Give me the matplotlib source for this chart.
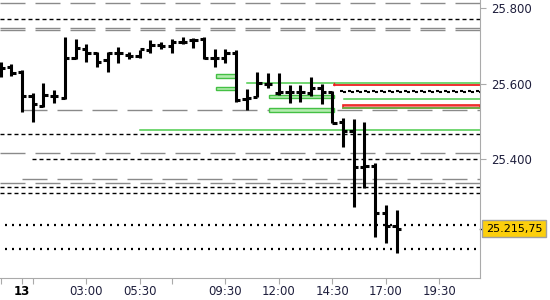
import matplotlib.pyplot as plt
from matplotlib.patches import Rectangle

plt.rcParams['lines.scale_dashes'] = False

# bar times in hours from midnight of the 13th, 30 min bars
times = [-1.0, -0.5, 0.0, 0.5, 1.0, 1.5, 2.0, 2.5, 3.0, 3.5, 4.0, 4.5, 5.0, 5.5,
         6.0, 6.5, 7.0, 7.5, 8.0, 8.5, 9.0, 9.5, 10.0, 10.5, 11.0, 11.5, 12.0,
         12.5, 13.0, 13.5, 14.0, 14.5, 15.0, 15.5, 16.0, 16.5, 17.0, 17.5]
opens = [25644, 25644, 25630, 25567, 25540, 25567, 25562, 25668, 25691, 25681,
         25662, 25681, 25675, 25673, 25689, 25702, 25699, 25710, 25715, 25718,
         25668, 25668, 25681, 25559, 25564, 25599, 25575, 25577, 25577, 25575,
         25588, 25577, 25498, 25474, 25379, 25381, 25257, 25223]
highs = [25657, 25652, 25636, 25575, 25601, 25583, 25723, 25718, 25705, 25683,
         25683, 25697, 25683, 25689, 25715, 25710, 25718, 25723, 25721, 25723,
         25691, 25691, 25689, 25585, 25630, 25628, 25628, 25596, 25596, 25617,
         25599, 25580, 25509, 25506, 25498, 25389, 25278, 25265]
lows = [25617, 25620, 25525, 25498, 25538, 25548, 25559, 25665, 25657, 25644,
        25630, 25654, 25665, 25668, 25681, 25691, 25681, 25705, 25694, 25665,
        25644, 25654, 25551, 25530, 25564, 25588, 25570, 25548, 25551, 25567,
        25546, 25495, 25432, 25273, 25323, 25193, 25177, 25151]
closes = [25641, 25628, 25567, 25546, 25570, 25567, 25668, 25694, 25681, 25657,
          25681, 25681, 25673, 25691, 25702, 25699, 25710, 25710, 25715, 25668,
          25668, 25681, 25556, 25562, 25601, 25599, 25577, 25577, 25577, 25588,
          25577, 25495, 25474, 25379, 25381, 25257, 25223, 25215.75]
last_price = 25215.75

# reference levels
gray_levels = [25812.5, 25747.8, 25741.7, 25530, 25416, 25347, 25336]
gray_starts = [-1.03, -1.03, -1.03, 0.0, -1.03, 0.0, -1.03]
dash_levels = [25771, 25466, 25400, 25327, 25311]
dash_starts = [-1.03, -1.03, 0.47, -1.03, -1.03]
dot_levels = [25226, 25162]
green_levels = [25600.5, 25559, 25477]
green_starts = [10.5, 15.05, 5.5]
red_level = 25596
red_start = 14.6
checker_level = 25578
checker_start = 14.86
red_zone = (15.0, 25535, 25543)
green_boxes = [(9.07, 10.0, 25615, 25625), (9.07, 10.0, 25583, 25591),
               (11.54, 14.58, 25561, 25570), (11.54, 14.58, 25524, 25534)]

tick_pos = [-1.0, 0.0, 0.5, 3.0, 5.5, 7.0, 9.5, 12.0, 14.5, 17.0, 19.5]
tick_lab = ['', '13', '', '03:00', '05:30', '', '09:30', '12:00', '14:30', '17:00', '19:30']
ytick_pos = [25400, 25600, 25800]
ytick_lab = ['25.400', '25.600', '25.800']

x0, x1 = -1.03, 21.4
px = 0.72  # points per pixel

fig = plt.figure(figsize=(5.5, 3), dpi=100)
ax = fig.add_axes([0, 22 / 300, 480 / 550, 278 / 300])
ax.set_xlim(x0, x1)
ax.set_ylim(25084.8, 25821.2)

for lv, st in zip(gray_levels, gray_starts):
    ax.plot([st, x1], [lv, lv], color='#8a8a8a', lw=1.0, dashes=(25 * px, 10 * px), zorder=1)
for lv, st in zip(dash_levels, dash_starts):
    ax.plot([st, x1], [lv, lv], color='black', lw=1.0, dashes=(4 * px, 3 * px), zorder=1)
for lv in dot_levels:
    ax.plot([-0.8, x1], [lv, lv], color='black', lw=1.6, dashes=(2 * px, 5 * px), zorder=1)
for lv, st in zip(green_levels, green_starts):
    ax.plot([st, x1], [lv, lv], color='#4ccc4c', lw=1.1, zorder=2)
ax.plot([red_start, x1], [red_level, red_level], color='#ee2020', lw=1.3, zorder=2)
ax.plot([red_start, red_start], [red_level, green_levels[0]], color='#ee2020', lw=1.0, zorder=2)

# checkered dotted line: two offset rows
ax.plot([checker_start, x1], [checker_level + 1.3] * 2, color='black',
        lw=1.5, dashes=(3 * px, 5 * px), zorder=2)
ax.plot([checker_start + 0.14, x1], [checker_level - 1.3] * 2, color='black',
        lw=1.5, dashes=(3 * px, 5 * px), zorder=2)

rs, rb, rt = red_zone
ax.add_patch(Rectangle((rs, rb), x1 - rs, rt - rb, facecolor='#f47c7c', edgecolor='#ee2020',
                       lw=1.2, zorder=2))
ax.plot([rs, x1], [rb, rb], color='#4ccc4c', lw=1.1, zorder=3)
for a, b, lo, hi in green_boxes:
    ax.add_patch(Rectangle((a, lo), b - a, hi - lo, facecolor='#b4ecb0', edgecolor='#44c044',
                           lw=1.0, zorder=3))

# OHLC bars
ax.vlines(times, lows, highs, color='black', lw=2.2, zorder=4)
ax.hlines(opens, [t - 0.2 for t in times], times, color='black', lw=2.2, zorder=4)
ax.hlines(closes, times, [t + 0.2 for t in times], color='black', lw=2.2, zorder=4)

for s in ['left', 'top']:
    ax.spines[s].set_visible(False)
for s in ['right', 'bottom']:
    ax.spines[s].set_color('#aaaaaa')
ax.yaxis.tick_right()
ax.set_yticks(ytick_pos, ytick_lab)
ax.set_xticks(tick_pos, tick_lab)
ax.tick_params(axis='both', colors='#aaaaaa', labelcolor='#1e1e3c', labelsize=8.5, length=4)
ax.tick_params(axis='y', pad=4)
ax.tick_params(axis='x', pad=1)
ax.get_xticklabels()[1].set_fontweight('bold')
ax.get_xticklabels()[1].set_color('black')

ax.plot([x1, x1 + 0.33], [last_price, last_price], color='black', lw=1.0, clip_on=False)
ax.annotate('25.215,75', xy=(x1, last_price), xycoords='data', xytext=(6, 0),
            textcoords='offset pixels', ha='left', va='center', fontsize=8.0, color='black',
            bbox=dict(boxstyle='square,pad=0.32', facecolor='#fccf0c', edgecolor='#a0a0a0'))

fig.savefig('out.png', dpi=100)
